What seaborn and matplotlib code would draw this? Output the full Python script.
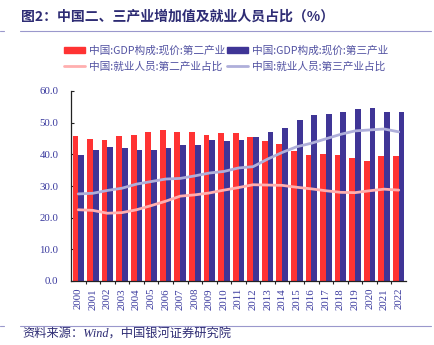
import matplotlib
matplotlib.use("Agg")
import matplotlib.pyplot as plt
import seaborn as sns
import pandas as pd
import numpy as np
from matplotlib.patches import Patch
from matplotlib.lines import Line2D

years = [str(y) for y in range(2000, 2023)]
gdp_secondary = [45.8, 44.9, 44.6, 45.7, 46.1, 47.2, 47.7, 47.1, 47.2, 46.1, 46.7, 46.7, 45.6, 44.3, 43.2, 41.0, 39.8, 40.0, 39.8, 38.7, 38.0, 39.4, 39.5]
gdp_tertiary = [39.9, 41.3, 42.3, 42.1, 41.4, 41.4, 41.9, 43.0, 43.0, 44.6, 44.3, 44.5, 45.5, 47.0, 48.4, 50.9, 52.5, 52.8, 53.4, 54.4, 54.6, 53.5, 53.5]
emp_secondary = [22.5, 22.3, 21.4, 21.6, 22.5, 23.8, 25.2, 26.8, 27.2, 27.8, 28.7, 29.5, 30.4, 30.3, 30.2, 29.6, 29.1, 28.5, 28.0, 27.9, 28.5, 29.0, 28.7]
emp_tertiary = [27.5, 27.7, 28.6, 29.3, 30.6, 31.4, 32.2, 32.4, 33.2, 34.1, 34.6, 35.7, 36.1, 38.5, 40.6, 42.4, 43.5, 44.9, 46.3, 47.4, 47.7, 48.0, 47.1]

lab_g2 = "中国:GDP构成:现价:第二产业"
lab_g3 = "中国:GDP构成:现价:第三产业"
lab_e2 = "中国:就业人员:第二产业占比"
lab_e3 = "中国:就业人员:第三产业占比"

c_red = "#FF3333"
c_navy = "#3F3596"
c_pink = "#FFAFAF"
c_lav = "#AFAFDA"
c_text = "#3A3A9E"

sns.set_style("ticks")
plt.rcParams['font.family'] = ['Noto Sans CJK SC', 'DejaVu Sans']

bars = pd.DataFrame({
    "year": years * 2,
    "value": gdp_secondary + gdp_tertiary,
    "series": [lab_g2] * len(years) + [lab_g3] * len(years),
})

W, H = 434, 345
fig = plt.figure(figsize=(4.34, 3.45), dpi=100)
ax = fig.add_axes([71 / W, 1 - 281 / H, (406 - 71) / W, (281 - 91) / H])

sns.barplot(data=bars, x="year", y="value", hue="series", order=years,
            hue_order=[lab_g2, lab_g3], palette=[c_red, c_navy],
            width=0.79, gap=0, saturation=1, legend=False, ax=ax,
            errorbar=None, linewidth=0, edgecolor="none")

pos = np.arange(len(years))
sns.lineplot(x=pos, y=emp_secondary, color=c_pink, linewidth=2.0, ax=ax)
sns.lineplot(x=pos, y=emp_tertiary, color=c_lav, linewidth=2.0, ax=ax)

ax.set_xlim(-0.5, len(years) - 0.5)
ax.set_ylim(0, 60)
ax.set_yticks(np.arange(0, 61, 10))
ax.set_yticklabels([f"{v:.1f}" for v in np.arange(0, 61, 10)],
                   fontfamily="Liberation Serif", fontsize=7.8, color=c_text)
ax.set_xticks(pos)
ax.set_xticklabels(years, rotation=90, fontfamily="Liberation Serif",
                   fontsize=7.8, color=c_text)
ax.set_xticks(np.arange(0.5, len(years) - 0.5, 1), minor=True)
ax.set_xlabel("")
ax.set_ylabel("")
for s in ["top", "right"]:
    ax.spines[s].set_visible(False)
for s in ["left", "bottom"]:
    ax.spines[s].set_color("#222222")
    ax.spines[s].set_linewidth(0.9)
ax.tick_params(axis="y", direction="in", length=2.5, width=0.8, color="#222222", pad=9)
ax.tick_params(axis="x", which="major", length=0, pad=5)
ax.tick_params(axis="x", which="minor", direction="out", length=2.5, width=0.8, color="#222222")

handles = [
    Patch(color=c_red, label=lab_g2),
    Line2D([0], [0], color=c_pink, lw=2, label=lab_e2),
    Patch(color=c_navy, label=lab_g3),
    Line2D([0], [0], color=c_lav, lw=2, label=lab_e3),
]
leg = fig.legend(handles=handles, ncol=2, loc="upper left",
                 bbox_to_anchor=(64 / W, 1 - 45.5 / H), borderpad=0, borderaxespad=0,
                 frameon=False, fontsize=7.7, handlelength=2.0, handleheight=0.45,
                 columnspacing=0.15, handletextpad=0.35, labelspacing=0.5)
for t in leg.get_texts():
    t.set_color("#5252A2")

fig.text(21 / W, 1 - 17 / H, "图2：中国二、三产业增加值及就业人员占比（%）", fontsize=10,
         fontweight="bold", color="#2E2C74", va="center", ha="left")
fig.add_artist(Line2D([20 / W, 431 / W], [1 - 31 / H, 1 - 31 / H], color="#9A98CC", lw=0.8))
fig.add_artist(Line2D([0.0, 4 / W], [1 - 31 / H, 1 - 31 / H], color="#9A98CC", lw=0.8))
fig.add_artist(Line2D([20 / W, 431 / W], [1 - 325.5 / H, 1 - 325.5 / H], color="#9A98CC", lw=0.8))
fig.add_artist(Line2D([0.0, 4 / W], [1 - 325.5 / H, 1 - 325.5 / H], color="#9A98CC", lw=0.8))
fig.text(22 / W, 1 - 335 / H, "资料来源：Wind，中国银河证券研究院", fontsize=8.8,
         style="italic", family=["Liberation Serif", "Noto Sans CJK SC"],
         color="#2E2C74", va="center", ha="left")

fig.savefig("out.png", dpi=100)
